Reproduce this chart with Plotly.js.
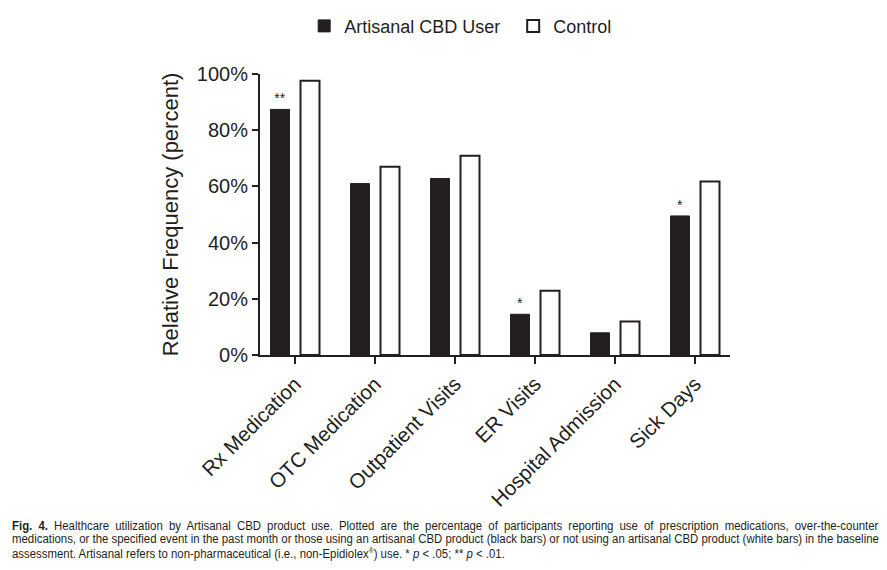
<!DOCTYPE html>
<html>
<head>
<meta charset="utf-8">
<script src="https://cdn.plot.ly/plotly-3.0.1.min.js"></script>
<style>
  html, body { margin:0; padding:0; background:#fff; }
  #wrap { position:relative; width:887px; height:570px; overflow:hidden; }
  #chart { position:absolute; left:0; top:0; width:887px; height:570px; }
  #caption { position:absolute; left:12px; top:520px; width:912px;
    transform:scaleX(0.95); transform-origin:left top;
    font-family:"Liberation Sans", Arial, sans-serif;
    font-size:12px; line-height:12.6px; color:#231f20; }
  #caption .j { display:block; text-align:justify; text-align-last:justify; white-space:nowrap; }
  #caption .l { display:block; white-space:nowrap; }
</style>
</head>
<body>
<div id="wrap">
  <div id="chart"></div>
  <div id="caption">
    <span class="j"><b>Fig. 4.</b> Healthcare utilization by Artisanal CBD product use. Plotted are the percentage of participants reporting use of prescription medications, over-the-counter</span>
    <span class="j">medications, or the specified event in the past month or those using an artisanal CBD product (black bars) or not using an artisanal CBD product (white bars) in the baseline</span>
    <span class="l">assessment. Artisanal refers to non-pharmaceutical (i.e., non-Epidiolex<sup style="font-size:7px">®</sup>) use. * <i>p</i> &lt; .05; ** <i>p</i> &lt; .01.</span>
  </div>
</div>
<script>
const categories = ["Rx Medication", "OTC Medication", "Outpatient Visits", "ER Visits", "Hospital Admission", "Sick Days"];
const cbdUser = [87.4, 61.0, 62.8, 14.5, 7.9, 49.5];
const control = [97.6, 67.0, 70.9, 22.9, 11.9, 61.7];
const significance = ["**", "", "", "*", "", "*"];
const yTicks = [0, 20, 40, 60, 80, 100];

const ink = "#231f20";
const font = "Liberation Sans, Arial, Helvetica, sans-serif";

const traces = [
  {
    type: "bar", name: "Artisanal CBD User",
    x: categories, y: cbdUser,
    marker: { color: ink, line: { color: ink, width: 1 } },
    text: significance, textposition: "outside", cliponaxis: false,
    textfont: { family: font, size: 14, color: ink },
    hoverinfo: "none"
  },
  {
    type: "bar", name: "Control",
    x: categories, y: control,
    marker: { color: "#ffffff", line: { color: ink, width: 2 } },
    hoverinfo: "none"
  }
];

const layout = {
  width: 887, height: 570,
  margin: { l: 260, r: 157, t: 74, b: 215, autoexpand: false },
  paper_bgcolor: "#fff", plot_bgcolor: "#fff",
  barmode: "group", bargap: 0.25, bargroupgap: 0.367,
  font: { family: font, color: ink },
  showlegend: true,
  legend: {
    orientation: "h", x: 0.094, xanchor: "left", y: 1.236, yanchor: "top",
    font: { family: font, size: 18, color: ink },
    entrywidth: 164, entrywidthmode: "pixels", traceorder: "normal"
  },
  xaxis: {
    type: "category", range: [-0.4375, 5.4375],
    showline: true, linecolor: ink, linewidth: 2,
    ticks: "outside", ticklen: 7, tickwidth: 2, tickcolor: ink,
    tickangle: -45, tickfont: { family: font, size: 20.5, color: ink },
    showgrid: false, zeroline: false, fixedrange: true
  },
  yaxis: {
    range: [0, 100], tickvals: yTicks, ticktext: yTicks.map(v => v + "%"),
    showline: true, linecolor: ink, linewidth: 2,
    ticks: "outside", ticklen: 6, tickwidth: 2, tickcolor: ink,
    tickfont: { family: font, size: 20, color: ink },
    showgrid: false, zeroline: false, fixedrange: true,
    title: { text: "Relative Frequency (percent)", font: { family: font, size: 22, color: ink }, standoff: 12 }
  }
};

Plotly.newPlot("chart", traces, layout, { displayModeBar: false, staticPlot: true });
</script>
</body>
</html>
